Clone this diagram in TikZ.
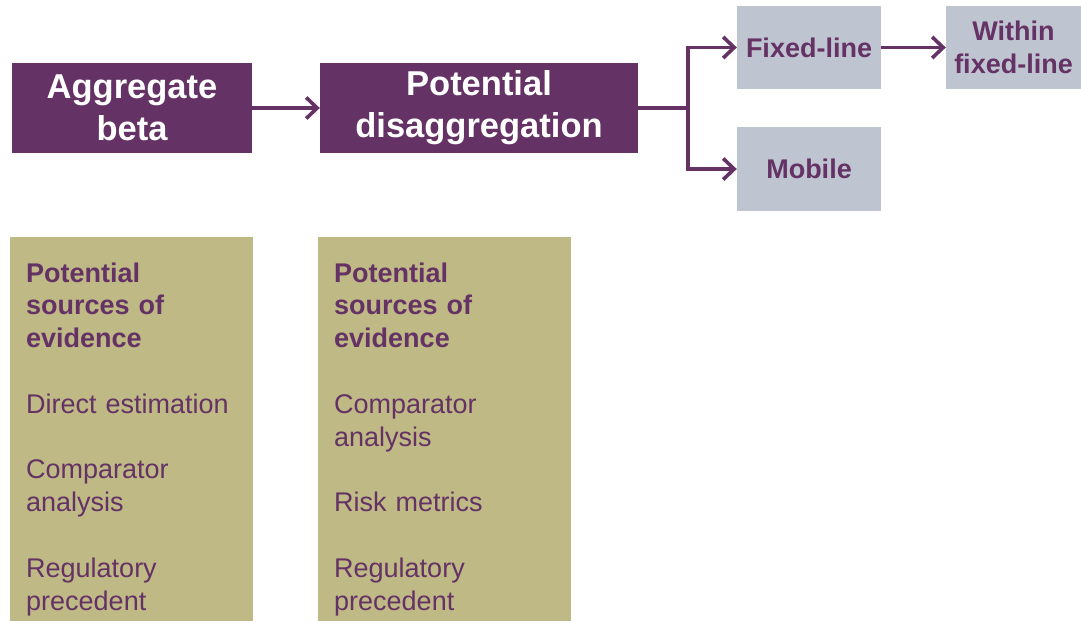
\documentclass[tikz,border=0pt]{standalone}
\usepackage{fontspec}
\setmainfont{Liberation Sans}
\usetikzlibrary{arrows.meta}
\definecolor{plum}{RGB}{100,50,100}
\definecolor{steel}{RGB}{191,196,209}
\definecolor{khaki}{RGB}{191,185,134}

\begin{document}
\begin{tikzpicture}[x=1pt,y=-1pt,
  mainbox/.style={fill=plum, text=white, font=\fontsize{34.5}{42}\selectfont\bfseries,
    align=center, inner sep=0pt, minimum width=#1, minimum height=90pt},
  subbox/.style={fill=steel, text=plum, font=\fontsize{27}{33}\selectfont\bfseries,
    align=center, inner sep=0pt, minimum width=#1, minimum height=83pt},
  evbox/.style={fill=khaki, inner sep=0pt, anchor=north west, minimum width=#1, minimum height=384pt},
  evtext/.style={text=plum, font=\fontsize{27}{32.8}\selectfont, text width=235pt,
    align=left, inner sep=0pt, anchor=base west},
  link/.style={draw=plum, line width=3.6pt},
  arr/.style={link, -{Straight Barb[length=11pt,width=21pt]}}]
\useasboundingbox (0,0) rectangle (1081,621);

% top row: main stages
\node[mainbox=240pt] (agg) at (132,108) {Aggregate\\beta};
\node[mainbox=318pt] (dis) at (479,108) {Potential\\disaggregation};

% split boxes
\node[subbox=144pt] (fixed) at (809,47.5) {Fixed-line};
\node[subbox=144pt, minimum height=84pt] (mobile) at (809,169) {Mobile};
\node[subbox=135pt] (within) at (1013.5,47.5) {Within\\fixed-line};

% connectors
\coordinate (split) at (688,108);
\draw[arr] (agg.east) -- (dis.west);
\draw[link] (dis.east) -- (split);
\draw[arr] (split) |- (fixed.west);
\draw[arr] (split) |- (mobile.west);
\draw[arr] (fixed.east) -- (within.west);

% evidence panels
\node[evbox=243pt] (evleft) at (10,237) {};
\node[evbox=253pt] (evright) at (318,237) {};

\node[evtext] (evlefttext) at (26,282) {{\bfseries Potential\\sources of\\evidence}\\[32.8pt]
Direct estimation\\[32.8pt]
Comparator\\analysis\\[32.8pt]
Regulatory\\precedent};

\node[evtext] (evrighttext) at (334,282) {{\bfseries Potential\\sources of\\evidence}\\[32.8pt]
Comparator\\analysis\\[32.8pt]
Risk metrics\\[32.8pt]
Regulatory\\precedent};
\end{tikzpicture}
\end{document}
